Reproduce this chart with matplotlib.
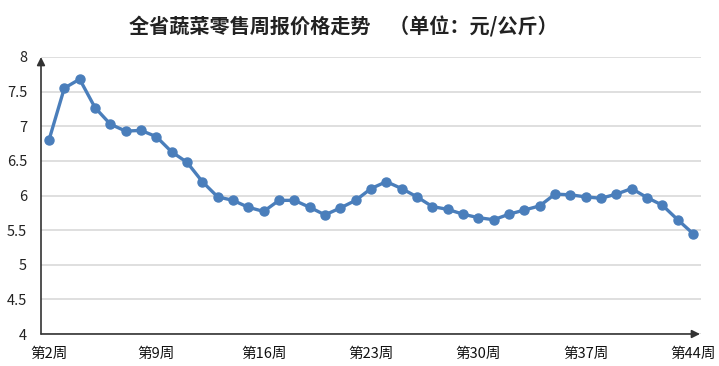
import matplotlib
matplotlib.use("Agg")
import matplotlib.pyplot as plt

plt.rcParams['font.family'] = ['Noto Sans CJK SC', 'DejaVu Sans']

weeks = list(range(2, 45))
prices = [6.80, 7.55, 7.68, 7.27, 7.03, 6.93, 6.94, 6.85, 6.63, 6.48,
          6.20, 5.98, 5.93, 5.83, 5.77, 5.93, 5.93, 5.83, 5.72, 5.82,
          5.93, 6.10, 6.20, 6.10, 5.98, 5.84, 5.80, 5.73, 5.68, 5.65,
          5.73, 5.79, 5.85, 6.02, 6.01, 5.98, 5.96, 6.02, 6.10, 5.97,
          5.86, 5.65, 5.45]
tick_weeks = [2, 9, 16, 23, 30, 37, 44]
tick_labels = ["第2周", "第9周", "第16周", "第23周", "第30周", "第37周", "第44周"]
y_ticks = [4, 4.5, 5, 5.5, 6, 6.5, 7, 7.5, 8]
y_labels = ["4", "4.5", "5", "5.5", "6", "6.5", "7", "7.5", "8"]
title = "全省蔬菜零售周报价格走势    （单位：元/公斤）"

W, H = 719, 366
fig = plt.figure(figsize=(W / 100, H / 100), dpi=100)
left, right, bottom, top = 41, 701, 334, 57
ax = fig.add_axes([left / W, (H - bottom) / H, (right - left) / W, (bottom - top) / H])

color = "#4A7EBB"
ax.plot(weeks, prices, color=color, lw=2.4, marker="o", markersize=6.5,
        markerfacecolor=color, markeredgecolor=color, zorder=3, clip_on=False)

ax.set_xlim(1.48, 44.52)
ax.set_ylim(4, 8)
ax.set_yticks(y_ticks)
ax.set_yticklabels(y_labels, fontsize=10.5, color="#222222")
ax.set_xticks(tick_weeks)
ax.set_xticklabels(tick_labels, fontsize=10.5, color="#111111")
ax.tick_params(axis="both", length=0)
ax.tick_params(axis="y", pad=10)
ax.tick_params(axis="x", pad=9)

ax.grid(axis="y", color="#D9D9D9", lw=1.2, zorder=0)
for s in ["top", "right", "left", "bottom"]:
    ax.spines[s].set_visible(False)

# axes with arrows
ax.annotate("", xy=(0, 1.0), xytext=(0, 0), xycoords="axes fraction",
            arrowprops=dict(arrowstyle="-|>", color="#333333", lw=1.2,
                            mutation_scale=12, shrinkA=0, shrinkB=0), zorder=4)
ax.annotate("", xy=((700 - left) / (right - left), 0), xytext=(0, 0), xycoords="axes fraction",
            arrowprops=dict(arrowstyle="-|>", color="#333333", lw=1.2,
                            mutation_scale=12, shrinkA=0, shrinkB=0), zorder=4,
            annotation_clip=False)

fig.text(343 / W, 1 - 27 / H, title, ha="center", va="center",
         fontsize=14.5, fontweight="bold", color="#222222")

fig.savefig("out.png", dpi=100, facecolor="white")
